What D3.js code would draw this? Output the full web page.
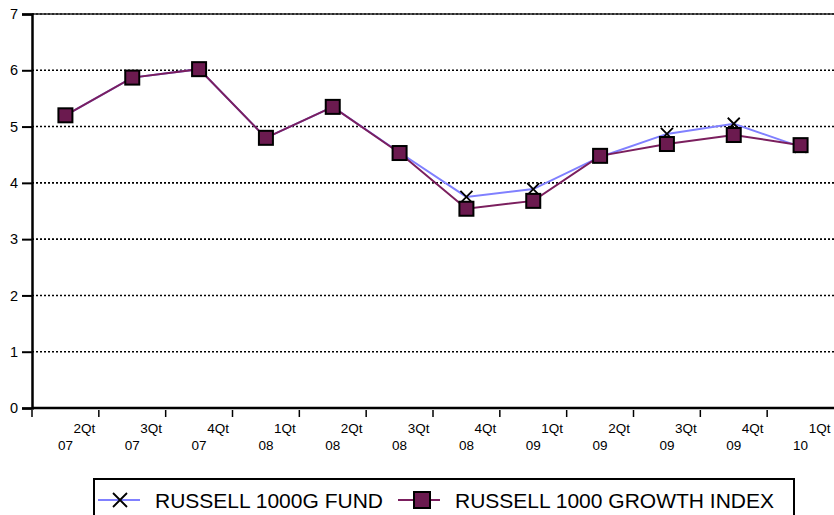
<!DOCTYPE html>
<html>
<head>
<meta charset="utf-8">
<script src="https://cdn.jsdelivr.net/npm/d3@7"></script>
<style>
  body { margin: 0; background: #fff; }
  svg { font-family: Arial, "Liberation Sans", sans-serif; }
  .grid line { stroke: #000; stroke-width: 1.6; stroke-dasharray: 2,2; }
</style>
</head>
<body>
<svg width="834" height="515"></svg>
<script>
var quarters = ["2Qt", "3Qt", "4Qt", "1Qt", "2Qt", "3Qt", "4Qt", "1Qt", "2Qt", "3Qt", "4Qt", "1Qt"],
    years = ["07", "07", "07", "08", "08", "08", "08", "09", "09", "09", "09", "10"];

var fund = [5.20, 5.87, 6.02, 4.80, 5.35, 4.54, 3.75, 3.89, 4.46, 4.87, 5.05, 4.64],
    index = [5.20, 5.87, 6.02, 4.80, 5.35, 4.53, 3.54, 3.68, 4.48, 4.69, 4.85, 4.67];

var yTicks = [0, 1, 2, 3, 4, 5, 6, 7];

var svg = d3.select("svg"),
    margin = {top: 14, right: 0, bottom: 107, left: 32},
    width = +svg.attr("width") - margin.left - margin.right,
    height = +svg.attr("height") - margin.top - margin.bottom;

var x = d3.scaleBand().domain(d3.range(quarters.length)).range([0, width]),
    y = d3.scaleLinear().domain([0, 7]).range([height, 0]);

var g = svg.append("g")
    .attr("transform", "translate(" + margin.left + "," + margin.top + ")");

// dotted gridlines
g.append("g")
    .attr("class", "grid")
    .selectAll("line")
    .data(yTicks.slice(1))
    .enter().append("line")
    .attr("x1", 0)
    .attr("x2", width)
    .attr("y1", function(d) { return y(d); })
    .attr("y2", function(d) { return y(d); });

// top border
g.append("line")
    .attr("x1", 0).attr("x2", width)
    .attr("y1", y(7)).attr("y2", y(7))
    .attr("stroke", "#222").attr("stroke-width", 1.5);

// y axis
var yAxis = d3.axisLeft(y).tickValues(yTicks).tickFormat(d3.format("d")).tickSize(10).tickPadding(4);
var ya = g.append("g").call(yAxis);
ya.select(".domain").attr("stroke-width", 2.5);
ya.selectAll(".tick line").attr("stroke-width", 2);
ya.selectAll(".tick text").attr("font-size", 14.5).attr("fill", "#000");

// x axis: ticks at band edges
var xa = g.append("g").attr("transform", "translate(0," + height + ")");
xa.append("line")
    .attr("x1", 0).attr("x2", width)
    .attr("stroke", "#000").attr("stroke-width", 2.5);
xa.selectAll(".xt")
    .data(d3.range(quarters.length))
    .enter().append("line")
    .attr("class", "xt")
    .attr("x1", function(d) { return x(d); })
    .attr("x2", function(d) { return x(d); })
    .attr("y1", 2).attr("y2", 9)
    .attr("stroke", "#000").attr("stroke-width", 1.5);

var lab = xa.selectAll(".xl")
    .data(d3.range(quarters.length))
    .enter().append("g")
    .attr("transform", function(d) { return "translate(" + (x(d) + x.bandwidth() / 2) + ",0)"; });
lab.append("text")
    .attr("x", 19).attr("y", 25)
    .attr("text-anchor", "middle")
    .attr("font-size", 13.5)
    .text(function(d) { return quarters[d]; });
lab.append("text")
    .attr("x", 0).attr("y", 42)
    .attr("text-anchor", "middle")
    .attr("font-size", 13.5)
    .text(function(d) { return years[d]; });

var cx = function(d, i) { return x(i) + x.bandwidth() / 2; };

var line = d3.line()
    .x(cx)
    .y(function(d) { return y(d); });

g.append("path")
    .datum(fund)
    .attr("fill", "none")
    .attr("stroke", "#8080ff")
    .attr("stroke-width", 2)
    .attr("d", line);

g.append("path")
    .datum(index)
    .attr("fill", "none")
    .attr("stroke", "#7b1f5e")
    .attr("stroke-width", 2)
    .attr("d", line);

function xMark(sel, s) {
  sel.append("path")
      .attr("d", "M" + (-s) + "," + (-s) + "L" + s + "," + s + "M" + (-s) + "," + s + "L" + s + "," + (-s))
      .attr("stroke", "#000")
      .attr("stroke-width", 1.8)
      .attr("fill", "none");
}

function sqMark(sel, s) {
  sel.append("rect")
      .attr("x", -s).attr("y", -s)
      .attr("width", 2 * s).attr("height", 2 * s)
      .attr("fill", "#6b1a4f")
      .attr("stroke", "#000")
      .attr("stroke-width", 2);
}

g.selectAll(".fm")
    .data(fund)
    .enter().append("g")
    .attr("transform", function(d, i) { return "translate(" + cx(d, i) + "," + y(d) + ")"; })
    .call(xMark, 6);

g.selectAll(".im")
    .data(index)
    .enter().append("g")
    .attr("transform", function(d, i) { return "translate(" + cx(d, i) + "," + y(d) + ")"; })
    .call(sqMark, 7);

// legend
var leg = svg.append("g");
leg.append("rect")
    .attr("x", 94).attr("y", 479)
    .attr("width", 700).attr("height", 50)
    .attr("fill", "#fff")
    .attr("stroke", "#000")
    .attr("stroke-width", 2);

var l1 = leg.append("g").attr("transform", "translate(120,500)");
l1.append("line").attr("x1", -22).attr("x2", 20).attr("stroke", "#8080ff").attr("stroke-width", 2);
l1.call(xMark, 7);
leg.append("text").attr("x", 155).attr("y", 508).attr("font-size", 21).text("RUSSELL 1000G FUND");

var l2 = leg.append("g").attr("transform", "translate(422,500)");
l2.append("line").attr("x1", -24).attr("x2", 18).attr("stroke", "#7b1f5e").attr("stroke-width", 2);
l2.call(sqMark, 8);
leg.append("text").attr("x", 455).attr("y", 508).attr("font-size", 21).text("RUSSELL 1000 GROWTH INDEX");
</script>
</body>
</html>
